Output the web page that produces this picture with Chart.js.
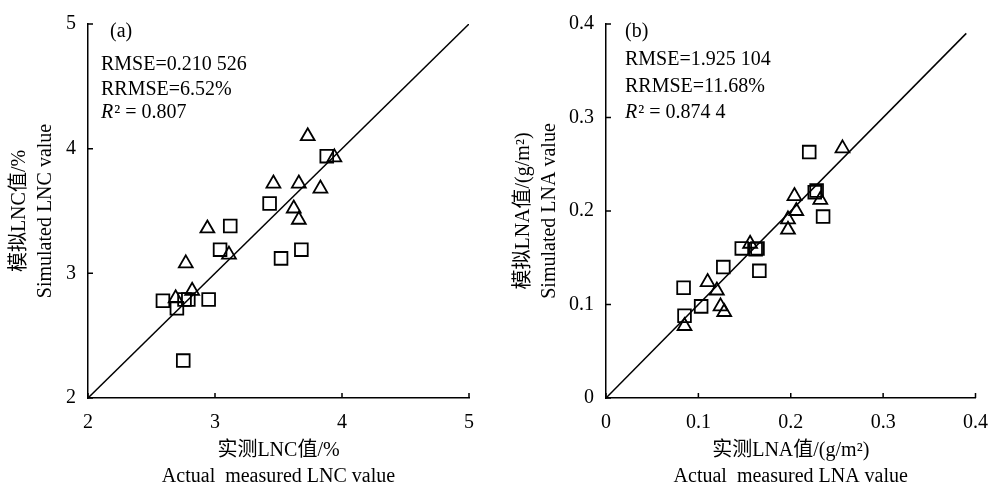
<!DOCTYPE html>
<html>
<head>
<meta charset="utf-8">
<script src="https://cdn.jsdelivr.net/npm/chart.js@4.4.1/dist/chart.umd.min.js"></script>
<style>
  html, body { margin: 0; padding: 0; background: #fff; overflow: hidden; }
  #wrap { position: relative; width: 1001px; height: 485px; }
  canvas { position: absolute; top: 0; }
  #chartA { left: 0; }
  #chartB { left: 500px; }
</style>
</head>
<body>
<div id="wrap">
  <canvas id="chartA" width="500" height="485"></canvas>
  <canvas id="chartB" width="501" height="485"></canvas>
</div>
<script>
// (a) LNC, %  -- squares
const lncSquareX = [2.59, 2.70, 2.76, 2.79, 2.95, 2.75, 3.04, 3.12, 3.43, 3.52, 3.68, 3.88];
const lncSquareY = [2.78, 2.72, 2.79, 2.79, 2.79, 2.30, 3.19, 3.38, 3.56, 3.12, 3.19, 3.94];
// (a) LNC, %  -- triangles
const lncTriX = [2.69, 2.77, 2.82, 2.94, 3.11, 3.46, 3.66, 3.73, 3.83, 3.62, 3.66, 3.94];
const lncTriY = [2.80, 3.08, 2.86, 3.36, 3.15, 3.72, 3.72, 4.10, 3.68, 3.52, 3.43, 3.93];
const lncLine = [2, 5];
const lncTicks = [2, 3, 4, 5];

// (b) LNA, g/m2  -- squares
const lnaSquareX = [0.084, 0.085, 0.103, 0.127, 0.147, 0.162, 0.164, 0.166, 0.220, 0.226, 0.228, 0.235];
const lnaSquareY = [0.118, 0.088, 0.098, 0.140, 0.160, 0.159, 0.160, 0.136, 0.263, 0.220, 0.222, 0.194];
// (b) LNA, g/m2  -- triangles
const lnaTriX = [0.085, 0.110, 0.120, 0.124, 0.128, 0.156, 0.197, 0.197, 0.204, 0.206, 0.232, 0.256];
const lnaTriY = [0.077, 0.124, 0.115, 0.098, 0.092, 0.165, 0.191, 0.180, 0.216, 0.200, 0.212, 0.267];
const lnaLine = [0, 0.39];
const lnaTicks = [0, 0.1, 0.2, 0.3, 0.4];

const statsA = ['RMSE=0.210 526', 'RRMSE=6.52%', '0.807'];
const statsB = ['RMSE=1.925 104', 'RRMSE=11.68%', '0.874 4'];

const SERIF = '"Liberation Serif", "Times New Roman", "Noto Sans CJK SC", serif';

const zip = (xs, ys) => xs.map((x, i) => ({ x: x, y: ys[i] }));

// ticks pointing into the plot
const innerTicks = {
  id: 'innerTicks',
  afterDraw(chart) {
    const { ctx, chartArea: a, scales } = chart;
    ctx.save();
    ctx.strokeStyle = '#000';
    ctx.lineWidth = 1.5;
    ctx.beginPath();
    scales.x.ticks.forEach((t, i) => {
      const px = scales.x.getPixelForTick(i);
      ctx.moveTo(px, a.bottom);
      ctx.lineTo(px, a.bottom - 5);
    });
    scales.y.ticks.forEach((t, i) => {
      const py = scales.y.getPixelForTick(i);
      ctx.moveTo(a.left, py);
      ctx.lineTo(a.left + 5, py);
    });
    ctx.stroke();
    ctx.restore();
  }
};

// panel letter and fit statistics
const notes = {
  id: 'notes',
  afterDraw(chart, args, o) {
    const ctx = chart.ctx;
    ctx.save();
    ctx.fillStyle = '#000';
    ctx.textBaseline = 'middle';
    ctx.textAlign = 'left';
    ctx.font = '20px ' + SERIF;
    ctx.fillText(o.label, o.labelX, o.labelY);
    ctx.fillText(o.stats[0], o.x, o.y[0]);
    ctx.fillText(o.stats[1], o.x, o.y[1]);
    ctx.font = 'italic 20px ' + SERIF;
    ctx.fillText('R', o.x, o.y[2]);
    const w = ctx.measureText('R').width;
    ctx.font = '20px ' + SERIF;
    ctx.fillText('\u00b2 = ' + o.stats[2], o.x + w + 1, o.y[2]);
    ctx.restore();
  }
};

function makeChart(id, cfg) {
  const marker = {
    borderColor: '#000',
    backgroundColor: 'rgba(0,0,0,0)',
    borderWidth: 1.8,
    pointHoverRadius: 0
  };
  return new Chart(document.getElementById(id), {
    type: 'scatter',
    data: {
      datasets: [
        {
          data: zip(cfg.line, cfg.line),
          showLine: true,
          borderColor: '#000',
          borderWidth: 1.5,
          pointRadius: 0
        },
        Object.assign({ data: cfg.squares, pointStyle: 'rect', pointRadius: 9 }, marker),
        Object.assign({ data: cfg.triangles, pointStyle: 'triangle', pointRadius: 8 }, marker)
      ]
    },
    options: {
      responsive: false,
      animation: false,
      events: [],
      layout: { padding: cfg.padding },
      plugins: {
        legend: { display: false },
        tooltip: { enabled: false },
        notes: cfg.notes
      },
      scales: {
        x: {
          type: 'linear',
          min: cfg.ticks[0],
          max: cfg.ticks[cfg.ticks.length - 1],
          afterBuildTicks: s => { s.ticks = cfg.ticks.map(v => ({ value: v })); },
          afterFit: s => { s.height = 87; },
          grid: { display: false, drawTicks: false },
          border: { display: true, color: '#000', width: 1.5 },
          ticks: { color: '#000', padding: 13, font: { family: SERIF, size: 20 } },
          title: {
            display: true,
            text: cfg.xTitle,
            color: '#000',
            font: { family: SERIF, size: 20, lineHeight: '26px' },
            padding: { top: 0, bottom: -5 }
          }
        },
        y: {
          type: 'linear',
          min: cfg.ticks[0],
          max: cfg.ticks[cfg.ticks.length - 1],
          afterBuildTicks: s => { s.ticks = cfg.ticks.map(v => ({ value: v })); },
          afterFit: s => { s.width = cfg.yWidth; },
          grid: { display: false, drawTicks: false },
          border: { display: true, color: '#000', width: 1.5 },
          ticks: { color: '#000', padding: 12, font: { family: SERIF, size: 20 } },
          title: {
            display: true,
            text: cfg.yTitle,
            color: '#000',
            font: { family: SERIF, size: 20, lineHeight: '26px' },
            padding: { top: cfg.yTitlePad, bottom: 0 }
          }
        }
      }
    },
    plugins: [innerTicks, notes]
  });
}

makeChart('chartA', {
  line: lncLine,
  ticks: lncTicks,
  squares: zip(lncSquareX, lncSquareY),
  triangles: zip(lncTriX, lncTriY),
  padding: { top: 17, right: 31, bottom: 0, left: 0 },
  yWidth: 88,
  yTitlePad: 7,
  xTitle: ['实测LNC值/%', 'Actual  measured LNC value'],
  yTitle: ['模拟LNC值/%', 'Simulated LNC value'],
  notes: { label: '(a)', labelX: 110, labelY: 32, stats: statsA, x: 101, y: [65, 90, 113] }
});

makeChart('chartB', {
  line: lnaLine,
  ticks: lnaTicks,
  squares: zip(lnaSquareX, lnaSquareY),
  triangles: zip(lnaTriX, lnaTriY),
  padding: { top: 19, right: 19, bottom: 0, left: 0 },
  yWidth: 106,
  yTitlePad: 11,
  xTitle: ['实测LNA值/(g/m²)', 'Actual  measured LNA value'],
  yTitle: ['模拟LNA值/(g/m²)', 'Simulated LNA value'],
  notes: { label: '(b)', labelX: 125, labelY: 32, stats: statsB, x: 125, y: [60, 87, 113] }
});
</script>
</body>
</html>
